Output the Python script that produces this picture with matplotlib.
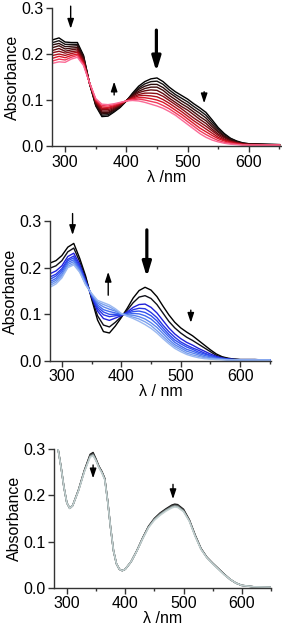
import matplotlib
matplotlib.use('Agg')
import matplotlib.pyplot as plt
from matplotlib.ticker import MultipleLocator

plt.rcParams['font.family'] = ['Liberation Sans', 'DejaVu Sans']
plt.rcParams['font.size'] = 11.5

# wavelength grid (nm) for the two titration panels
wl = [280, 290, 300, 310, 320, 330, 340, 350, 360, 370, 380, 390, 400, 410, 420, 430, 440, 450,
      460, 470, 480, 490, 500, 510, 520, 530, 540, 550, 560, 570, 580, 590, 600, 625, 650]

# panel 1: absorbance x1000, black -> pink
red_series = [
    [232, 236, 227, 226, 226, 198, 136, 88, 65, 66, 75, 85, 99, 116, 131, 141, 147, 149, 141, 129, 119, 111, 103, 93, 84, 74, 58, 41, 28, 18, 12, 8, 6, 5, 4],
    [226, 230, 222, 222, 222, 196, 136, 90, 68, 69, 77, 86, 99, 114, 127, 136, 141, 142, 135, 123, 113, 105, 97, 87, 78, 68, 53, 38, 26, 17, 11, 7, 6, 5, 4],
    [221, 224, 217, 218, 219, 193, 136, 92, 71, 72, 79, 87, 100, 112, 124, 131, 135, 135, 128, 117, 108, 99, 91, 81, 72, 62, 48, 34, 23, 15, 10, 7, 5, 4, 4],
    [215, 219, 212, 214, 215, 191, 137, 93, 74, 74, 81, 89, 100, 111, 120, 126, 129, 129, 122, 111, 102, 93, 85, 75, 65, 56, 43, 31, 21, 14, 9, 6, 5, 4, 4],
    [209, 213, 207, 210, 212, 188, 137, 95, 77, 77, 83, 90, 100, 109, 117, 121, 123, 122, 115, 105, 96, 87, 79, 69, 59, 50, 38, 27, 19, 12, 8, 6, 5, 4, 3],
    [204, 207, 203, 206, 208, 186, 137, 97, 80, 80, 85, 91, 100, 107, 113, 116, 116, 115, 109, 100, 91, 82, 72, 62, 53, 44, 34, 24, 16, 11, 8, 5, 4, 4, 3],
    [198, 201, 198, 202, 205, 183, 137, 99, 83, 83, 87, 92, 99, 105, 110, 111, 110, 108, 102, 94, 85, 76, 66, 56, 47, 38, 29, 20, 14, 10, 7, 5, 4, 4, 3],
    [192, 196, 193, 198, 201, 181, 138, 100, 86, 85, 89, 94, 99, 104, 106, 106, 104, 101, 96, 88, 79, 70, 60, 50, 40, 32, 24, 17, 12, 8, 6, 4, 4, 3, 3],
    [186, 190, 188, 194, 198, 178, 138, 102, 89, 88, 91, 95, 99, 102, 103, 101, 98, 95, 89, 82, 73, 64, 54, 44, 34, 26, 19, 13, 9, 7, 5, 4, 3, 3, 3],
    [181, 184, 183, 190, 194, 176, 138, 104, 92, 91, 93, 96, 99, 100, 99, 96, 92, 88, 83, 76, 68, 58, 48, 38, 28, 20, 14, 10, 7, 5, 4, 3, 3, 3, 3],
]
red_colors = ['#000000', '#141010', '#2a0c0c', '#400a0a', '#600a0e',
              '#880c14', '#b00e1a', '#d81628', '#f03a5a', '#fb6a96']

# panel 2: absorbance x1000, black -> light blue
blue_series = [
    [210, 215, 226, 244, 252, 220, 182, 133, 88, 63, 60, 75, 93, 113, 135, 151, 158, 152, 138, 118, 99, 83, 71, 62, 54, 44, 34, 24, 15, 9, 6, 4, 3, 3, 2],
    [199, 204, 215, 234, 242, 213, 178, 136, 97, 77, 73, 83, 95, 109, 125, 137, 140, 134, 121, 103, 85, 71, 60, 51, 44, 36, 28, 20, 12, 8, 5, 4, 3, 3, 2],
    [187, 193, 204, 224, 231, 207, 173, 138, 107, 91, 87, 92, 97, 105, 115, 121, 122, 115, 103, 87, 71, 58, 48, 40, 34, 27, 21, 15, 10, 6, 4, 3, 3, 3, 2],
    [180, 186, 198, 218, 225, 203, 171, 140, 112, 99, 95, 97, 98, 103, 110, 113, 112, 104, 93, 77, 63, 51, 41, 34, 28, 23, 17, 12, 8, 6, 4, 3, 2, 2, 2],
    [175, 182, 194, 215, 221, 200, 169, 141, 116, 105, 100, 100, 99, 102, 106, 107, 104, 97, 86, 71, 57, 45, 37, 30, 25, 19, 15, 11, 7, 5, 3, 3, 2, 2, 2],
    [170, 177, 190, 211, 217, 197, 168, 142, 120, 110, 106, 103, 100, 100, 102, 101, 97, 90, 79, 65, 52, 40, 32, 25, 21, 16, 12, 9, 6, 4, 3, 3, 2, 2, 2],
    [166, 173, 185, 207, 213, 195, 166, 143, 124, 116, 111, 107, 101, 99, 98, 95, 90, 82, 72, 59, 46, 35, 28, 21, 17, 13, 9, 7, 5, 4, 3, 2, 2, 2, 2],
    [162, 169, 181, 203, 209, 192, 164, 144, 127, 121, 116, 109, 101, 97, 94, 90, 84, 76, 65, 53, 41, 31, 24, 17, 13, 10, 7, 5, 4, 3, 2, 2, 2, 2, 2],
    [158, 165, 178, 200, 206, 190, 163, 145, 130, 125, 120, 112, 102, 96, 91, 85, 78, 70, 60, 48, 37, 27, 20, 14, 10, 7, 5, 4, 3, 3, 2, 2, 2, 2, 2],
]
blue_colors = ['#000000', '#101018', '#2020d8', '#2836e6', '#3050ee',
               '#4068f0', '#5a84ee', '#7aa0ee', '#9ab8f0']

# panel 3: nearly unchanged spectra
wl3 = [285, 290, 295, 300, 305, 310, 320, 330, 340, 345, 350, 355, 360, 365, 370, 375, 380, 385, 390, 395,
       400, 410, 420, 430, 440, 450, 460, 470, 480, 485, 490, 500, 510, 520, 530, 540, 550, 560, 570, 580,
       590, 600, 620, 650]
grey_series = [
    [300, 262, 218, 184, 172, 178, 212, 254, 289, 293, 279, 263, 252, 237, 188, 130, 80, 52, 40, 37,
     40, 56, 80, 108, 133, 150, 162, 171, 179, 181, 180, 170, 147, 114, 85, 66, 53, 41, 29, 18,
     10, 5, 2, 1],
    [300, 262, 218, 184, 172, 178, 211, 253, 287, 290, 277, 262, 251, 236, 188, 130, 80, 52, 40, 37,
     40, 56, 80, 107, 132, 149, 161, 169, 177, 179, 178, 168, 146, 113, 84, 66, 53, 41, 29, 18,
     10, 5, 2, 1],
    [300, 262, 218, 184, 172, 178, 211, 252, 285, 288, 276, 261, 250, 235, 187, 130, 80, 52, 40, 37,
     40, 56, 80, 107, 131, 148, 159, 168, 175, 177, 176, 166, 145, 112, 84, 65, 52, 40, 28, 18,
     10, 5, 2, 1],
    [299, 261, 218, 184, 172, 178, 210, 251, 283, 286, 275, 260, 249, 234, 187, 130, 80, 52, 40, 37,
     40, 56, 79, 106, 130, 146, 157, 166, 173, 175, 174, 165, 144, 111, 83, 65, 52, 40, 28, 18,
     10, 5, 2, 1],
]
grey_colors = ['#151515', '#4a4a4a', '#90a0a0', '#c2d0d0']

# arrows: (wavelength, tail, head, thick)
arrows1 = [(309, 0.305, 0.256, False), (380, 0.112, 0.141, False),
           (449, 0.253, 0.163, True), (527, 0.119, 0.094, False)]
arrows2 = [(318, 0.316, 0.270, False), (378, 0.141, 0.191, False),
           (443, 0.281, 0.180, True), (517, 0.109, 0.082, False)]
arrows3 = [(345, 0.266, 0.237, False), (482, 0.224, 0.192, False)]

fig = plt.figure(figsize=(2.82, 6.32), dpi=100)

def style(ax, xlim, xlabel):
    ax.set_xlim(*xlim)
    ax.set_ylim(0, 0.3)
    for s in ['top', 'right']:
        ax.spines[s].set_visible(False)
    for s in ['left', 'bottom']:
        ax.spines[s].set_color('#333333')
        ax.spines[s].set_linewidth(1.0)
    ax.set_xticks([300, 400, 500, 600])
    ax.xaxis.set_minor_locator(MultipleLocator(50))
    ax.set_yticks([0.0, 0.1, 0.2, 0.3])
    ax.set_yticklabels(['0.0', '0.1', '0.2', '0.3'])
    ax.tick_params(which='major', direction='out', length=4, width=1, color='#333333', pad=2)
    ax.tick_params(which='minor', direction='out', length=2.5, width=1, color='#333333')
    ax.tick_params(axis='y', which='minor', left=False)
    ax.set_ylabel('Absorbance', labelpad=1)
    ax.set_xlabel(xlabel, labelpad=0)

def draw_arrows(ax, arrows):
    for x, tail, head, thick in arrows:
        if thick:
            props = dict(arrowstyle='-|>,head_length=0.86,head_width=0.26', lw=2.3,
                         color='k', mutation_scale=10, shrinkA=0, shrinkB=0)
        else:
            props = dict(arrowstyle='-|>,head_length=0.72,head_width=0.24', lw=1.0,
                         color='k', mutation_scale=8, shrinkA=0, shrinkB=0)
        ax.annotate('', xy=(x, head), xytext=(x, tail), arrowprops=props,
                    annotation_clip=False)

ax1 = fig.add_axes([0.1833, 0.7682, 0.812, 0.2184])
for vals, c in zip(red_series, red_colors):
    ax1.plot(wl, [v / 1000 for v in vals], color=c, lw=1.0)
draw_arrows(ax1, arrows1)
style(ax1, (278, 652), 'λ /nm')

ax2 = fig.add_axes([0.1773, 0.4288, 0.7837, 0.2215])
for vals, c in zip(blue_series, blue_colors):
    ax2.plot(wl, [v / 1000 for v in vals], color=c, lw=1.0)
draw_arrows(ax2, arrows2)
style(ax2, (280, 652), 'λ / nm')

ax3 = fig.add_axes([0.1915, 0.0701, 0.7695, 0.219])
for vals, c in zip(grey_series, grey_colors):
    ax3.plot(wl3, [v / 1000 for v in vals], color=c, lw=1.1)
draw_arrows(ax3, arrows3)
style(ax3, (278, 650), 'λ /nm')

fig.savefig('out.png', dpi=100)
